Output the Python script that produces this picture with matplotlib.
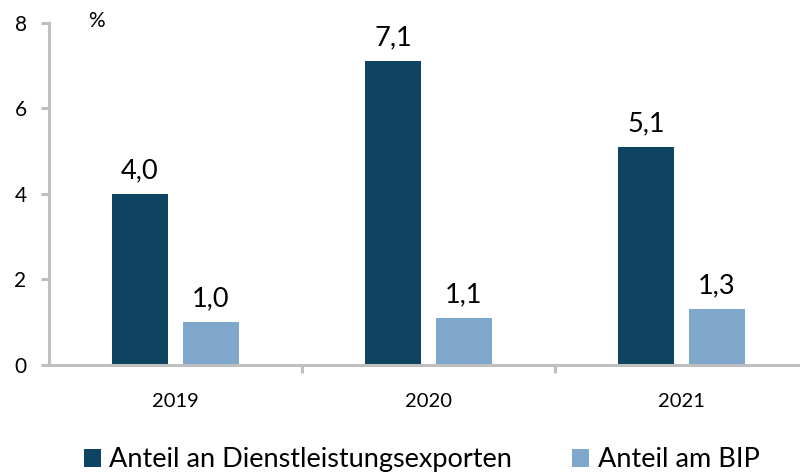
import numpy as np
import matplotlib.pyplot as plt

years = ['2019', '2020', '2021']
exports_share = [4.0, 7.1, 5.1]
gdp_share = [1.0, 1.1, 1.3]
labels = ['Anteil an Dienstleistungsexporten', 'Anteil am BIP']

dark = '#0e4461'
light = '#7fa7cb'
grey = '#bfbfbf'

plt.rcParams['font.family'] = ['Lato', 'DejaVu Sans']

fig = plt.figure(figsize=(8, 4.74), dpi=100)
ax = fig.add_axes([0.061, 0.23, 0.949, 0.7215])

x = np.arange(len(years))
w = 0.22
off = 0.14
b1 = ax.bar(x - off, exports_share, w, color=dark, label=labels[0])
b2 = ax.bar(x + off, gdp_share, w, color=light, label=labels[1])

for bars, vals in ((b1, exports_share), (b2, gdp_share)):
    for r, v in zip(bars, vals):
        ax.annotate(f'{v:.1f}'.replace('.', ','), (r.get_x() + r.get_width() / 2, v),
                    xytext=(0, 8), textcoords='offset points',
                    ha='center', va='bottom', fontsize=19.5)

ax.set_xlim(-0.5, 2.5)
ax.set_ylim(0, 8)
ax.set_yticks([0, 2, 4, 6, 8])
ax.set_xticks(x)
ax.set_xticklabels(years, fontsize=14.5)
ax.set_xticks([0.5, 1.5], minor=True)
ax.tick_params(axis='x', which='major', length=0, pad=20)
ax.tick_params(axis='x', which='minor', length=6, width=2.2, color=grey)
ax.tick_params(axis='y', length=6, width=2.2, color=grey, labelsize=15, pad=10)

for s in ('top', 'right'):
    ax.spines[s].set_visible(False)
for s in ('left', 'bottom'):
    ax.spines[s].set_color(grey)
    ax.spines[s].set_linewidth(2.2)

fig.text(0.121, 0.955, '%', fontsize=15, ha='center', va='center')

leg = fig.legend(loc='center', bbox_to_anchor=(0.527, 0.03), ncol=2, frameon=False,
                 fontsize=19.5, handlelength=0.65, handleheight=0.65,
                 handletextpad=0.3, columnspacing=2.2)

fig.savefig('out.png', dpi=100)
